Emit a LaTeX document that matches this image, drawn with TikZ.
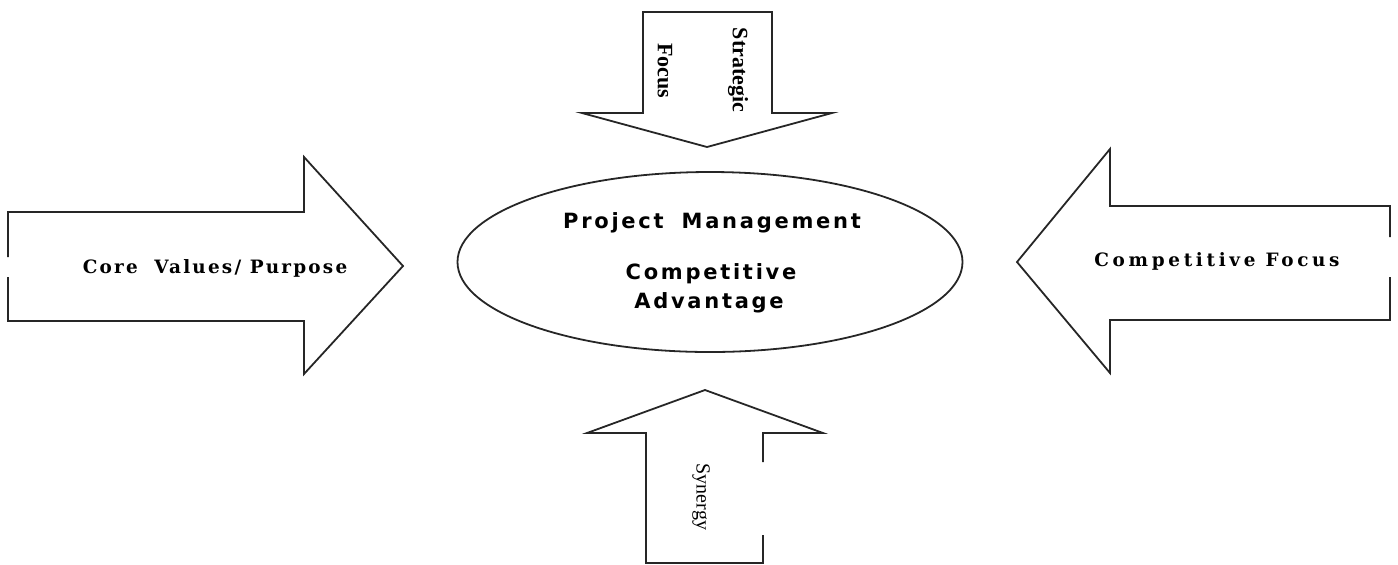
\documentclass[tikz,border=0pt]{standalone}
\usepackage{fontspec}
\usetikzlibrary{shapes.geometric}
\newfontfamily\centrefont{DejaVu Sans}[LetterSpace=13]
\newfontfamily\sidefont{DejaVu Serif}[LetterSpace=12]
\newfontfamily\vertfont{Liberation Serif}
\tikzset{outline/.style={line width=0.9pt,line join=miter,color=black!85},
	centretext/.style={anchor=base,font=\centrefont\bfseries\fontsize{10.5}{11}\selectfont},
	sidetext/.style={anchor=base,font=\sidefont\bfseries\fontsize{9.2}{10}\selectfont},
	verttext/.style={rotate=-90,inner sep=0pt}}

\begin{document}
\begin{tikzpicture}[x=0.5pt,y=-0.5pt]
	\useasboundingbox (0,0) rectangle (1398,564);
	% block arrows
	\draw[outline] (643,113) -- (643,12) -- (772,12) -- (772,113) -- (832,113) -- (707,147) -- (582,113) -- cycle;
	\draw[outline] (763,462) -- (763,433) -- (823,433) -- (705,390) -- (587,433) -- (646,433) -- (646,563) -- (763,563) -- (763,535);
	\draw[outline] (8,257) -- (8,212) -- (304,212) -- (304,157) -- (403,266) -- (304,374) -- (304,321) -- (8,321) -- (8,277);
	\draw[outline] (1390,237) -- (1390,206) -- (1110,206) -- (1110,149) -- (1017,262) -- (1110,373) -- (1110,320) -- (1390,320) -- (1390,277);
	% centre
	\node[draw,ellipse,outline,minimum width=252.5pt,minimum height=90pt] (pm) at (710,262) {};
	\node[centretext] (pmtitle) at (712,228) {Project\hspace{4pt} Management};
	\node[centretext] (compet) at (711,279) {Competitive};
	\node[centretext] (advant) at (709,308) {Advantage};
	% labels
	\node[sidetext] (core) at (215,273) {Core\hspace{4pt} Values/ Purpose};
	\node[sidetext] (cfocus) at (1217,266) {\addfontfeatures{LetterSpace=20}Competitive Focus};
	\node[verttext,font=\vertfont\bfseries\fontsize{11}{12}\selectfont] (strat) at (738,70) {Strategic};
	\node[verttext,font=\vertfont\bfseries\fontsize{11}{12}\selectfont] (sfocus) at (665,71) {Focus};
	\node[verttext,font=\vertfont\fontsize{10}{12}\selectfont] (syn) at (701,497) {Synergy};
\end{tikzpicture}
\end{document}
